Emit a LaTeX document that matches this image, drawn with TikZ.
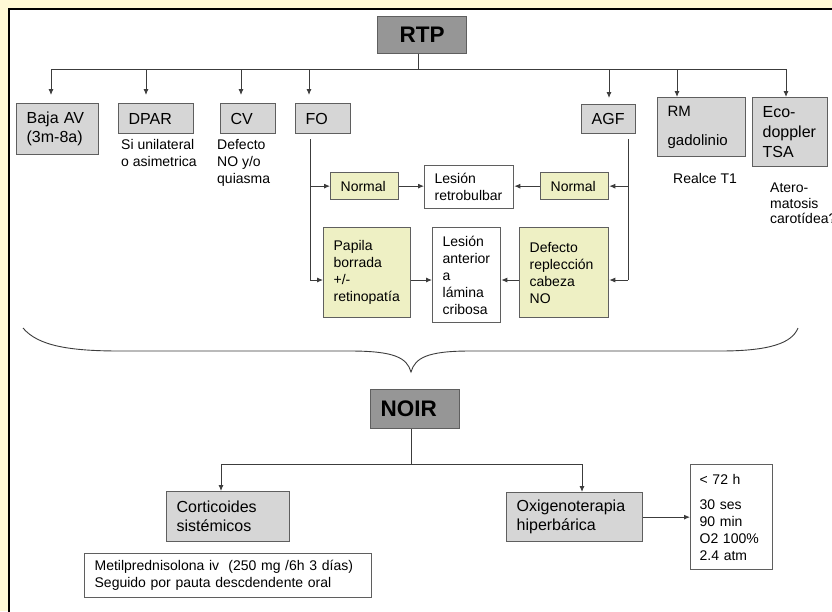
\documentclass[tikz,border=0pt]{standalone}
\usepackage{fontspec}
\setmainfont{Liberation Sans}
\usetikzlibrary{arrows.meta}
\definecolor{bgy}{RGB}{255,249,214}
\definecolor{darkbox}{RGB}{150,150,150}
\definecolor{lightbox}{RGB}{214,214,214}
\definecolor{ybox}{RGB}{238,240,196}
\definecolor{lnc}{RGB}{60,60,60}
\definecolor{bdc}{RGB}{95,95,95}
\newcommand{\myfs}[2]{\fontsize{#1}{#2}\selectfont}
\tikzset{
  box/.style={draw=bdc, line width=1.3pt, anchor=north west, inner xsep=10pt, inner ysep=0pt, align=left},
  wh/.style 2 args={text width=#1pt-20pt, minimum height=#2pt},
  big/.style={font=\myfs{16}{19}},
  small/.style={font=\myfs{14}{17}},
  gbox/.style={box, big, fill=lightbox},
  dbox/.style={box, fill=darkbox, font=\myfs{22.5}{26}\bfseries},
  ybx/.style={box, small, fill=ybox},
  wbx/.style={box, small, fill=white},
  lbl/.style={anchor=north west, inner sep=0pt, align=left, small},
  conn/.style={draw=lnc, line width=0.9pt},
  arr/.style={conn, -{Latex[length=6pt,width=5pt]}},
}
\begin{document}
\begin{tikzpicture}[x=1pt,y=-1pt]
\clip (0,0) rectangle (832,611);
\fill[bgy] (0,0) rectangle (832,611);
\fill[white] (9,9) rectangle (840,620);
\draw[black, line width=2pt] (9,620) -- (9,9) -- (840,9);

% ---------- top level ----------
\node[dbox, wh={89}{37}, align=center] (rtp) at (377,16) {RTP};

\node[gbox, wh={82}{51}] (baja) at (16,103) {Baja AV\\(3m-8a)};
\node[gbox, wh={75}{30}] (dpar) at (118,103) {DPAR};
\node[gbox, wh={55}{30}] (cv) at (220,103) {CV};
\node[gbox, wh={55}{30}] (fo) at (295,103) {FO};
\node[gbox, wh={54}{29}] (agf) at (581,104) {AGF};
\node[gbox, wh={88}{59}, font=\myfs{15}{19}] (rm) at (657,97) {RM\\[10pt]gadolinio};
\node[gbox, wh={75}{69}, font=\myfs{16}{20}] (eco) at (752,97) {Eco-\\doppler\\TSA};

\node[lbl] (si) at (121,139) {Si unilateral\\o asimetrica};
\node[lbl] (cvt) at (217,139) {Defecto\\NO y/o\\quiasma};
\node[lbl] (realce) at (673,173) {Realce T1};
\node[lbl, font=\myfs{14}{15.5}] (atero) at (770,183) {Atero-\\matosis\\carotídea?};

\coordinate (busL) at (51,69);
\coordinate (busR) at (786,69);
\coordinate (a1) at (51,69);
\coordinate (a2) at (146,69);
\coordinate (a3) at (241,69);
\coordinate (a4) at (309,69);
\coordinate (a5) at (609,69);
\coordinate (a6) at (677,69);
\coordinate (a7) at (786,69);
\draw[conn] (busL) -- (busR);
\draw[conn] (rtp.south -| 418,0) -- (418,69);
\draw[arr, shorten >=8pt] (a1) -- (a1 |- baja.north);
\draw[arr, shorten >=8pt] (a2) -- (a2 |- dpar.north);
\draw[arr, shorten >=8pt] (a3) -- (a3 |- cv.north);
\draw[arr, shorten >=8pt] (a4) -- (a4 |- fo.north);
\draw[arr, shorten >=6pt] (a5) -- (a5 |- agf.north);
\draw[arr] (a6) -- (a6 |- rm.north);
\draw[arr] (a7) -- (a7 |- eco.north);

% ---------- fundus / AGF branch ----------
\node[ybx, wh={68}{27}] (nl) at (330,172) {Normal};
\node[wbx, wh={89}{43}] (rb) at (424,165) {Lesión\\retrobulbar};
\node[ybx, wh={68}{27}] (nr) at (540,172) {Normal};
\node[ybx, wh={87}{90}] (pap) at (323,227) {Papila\\borrada\\+/-\\retinopatía};
\node[wbx, wh={68}{95}] (ant) at (432,227) {Lesión\\anterior\\a\\lámina\\cribosa};
\node[ybx, wh={89}{90}] (def) at (519,227) {Defecto\\replección\\cabeza\\NO};

\coordinate (fv) at (310,0);
\coordinate (av) at (628,0);
\coordinate (r2) at (0,280);
\draw[conn, shorten <=5pt] (fo.south -| fv) -- (fv |- r2);
\draw[arr] (fv |- nl.west) -- (nl.west);
\draw[arr] (fv |- r2) -- (pap.west |- r2);
\draw[conn, shorten <=5pt] (agf.south -| av) -- (av |- r2);
\draw[arr] (av |- nr.east) -- (nr.east);
\draw[arr] (av |- r2) -- (def.east |- r2);
\draw[arr] (nl.east) -- (nl.east -| rb.west);
\draw[arr] (nr.west) -- (nr.west -| rb.east);
\draw[arr] (pap.east |- r2) -- (ant.west |- r2);
\draw[arr] (def.west |- r2) -- (ant.east |- r2);

% ---------- brace ----------
\coordinate (brL) at (23,328);
\coordinate (brT) at (411,372);
\coordinate (brR) at (798,328);
\draw[lnc, line width=0.9pt] (brL) .. controls (38,346) and (70,351) .. (120,351)
  -- (350,351) .. controls (395,351) and (407,358) .. (brT)
  .. controls (415,358) and (427,351) .. (470,351)
  -- (720,351) .. controls (770,351) and (792,343) .. (brR);

% ---------- NOIR ----------
\node[dbox, wh={89}{39}] (noir) at (370,389) {NOIR};
\node[gbox, wh={123}{50}] (cort) at (166,491) {Corticoides\\sistémicos};
\node[gbox, wh={136}{49}] (oxi) at (506,492) {Oxigenoterapia\\hiperbárica};
\node[wbx, wh={287}{44}] (met) at (84,553) {Metilprednisolona iv\ \ (250 mg /6h 3 días)\\Seguido por pauta descdendente oral};
\node[wbx, wh={82}{105}, inner xsep=9pt, text width=64pt] (h72) at (690,464) {< 72 h\\[8pt]30 ses\\90 min\\O2 100\%\\2.4 atm};

\coordinate (b2) at (411,464);
\coordinate (c1) at (221,464);
\coordinate (c2) at (582,464);
\draw[conn] (noir.south -| b2) -- (b2);
\draw[conn] (c1) -- (c2);
\draw[arr] (c1) -- (c1 |- cort.north);
\draw[arr] (c2) -- (c2 |- oxi.north);
\draw[arr] (oxi.east) -- (oxi.east -| h72.west);
\end{tikzpicture}
\end{document}
